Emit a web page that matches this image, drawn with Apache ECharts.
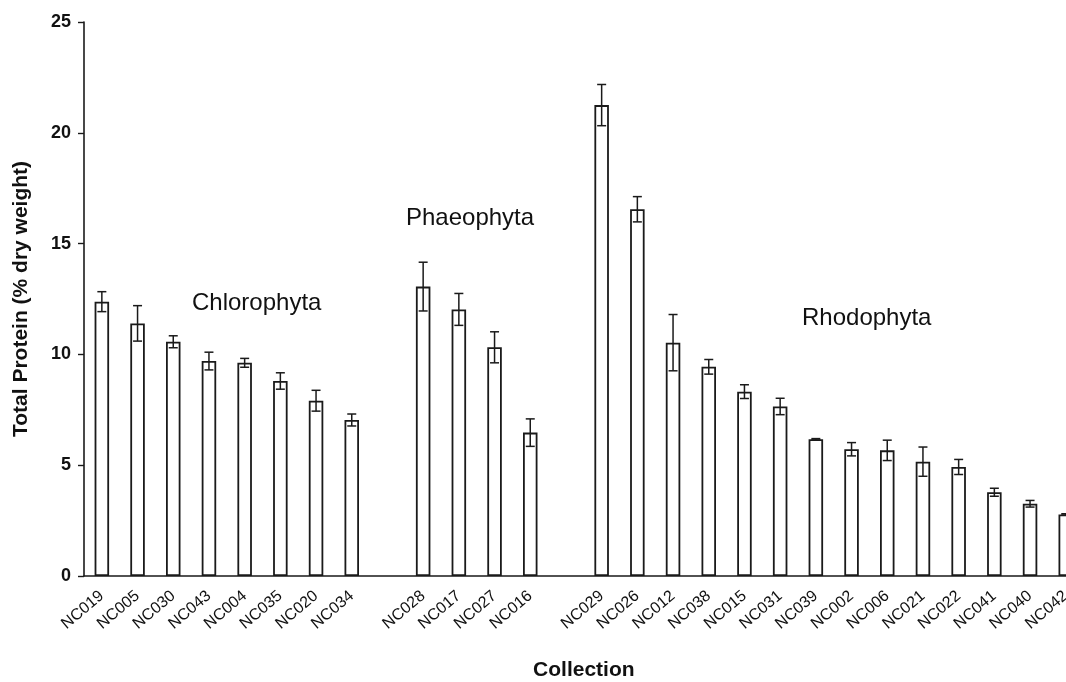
<!DOCTYPE html>
<html>
<head>
<meta charset="utf-8">
<script src="https://cdn.jsdelivr.net/npm/echarts@6/dist/echarts.min.js"></script>
<style>
html,body{margin:0;padding:0;background:#fff;}
#chart{width:1066px;height:682px;}
</style>
</head>
<body>
<div id="chart"></div>
<script>
// Categories ('' = spacer between phyla)
const categories = ['NC019','NC005','NC030','NC043','NC004','NC035','NC020','NC034','',
  'NC028','NC017','NC027','NC016','',
  'NC029','NC026','NC012','NC038','NC015','NC031','NC039','NC002','NC006','NC021','NC022','NC041','NC040','NC042'];
// Mean total protein (% dry weight)
const proteinMean = [12.38, 11.40, 10.57, 9.70, 9.62, 8.80, 7.91, 7.04, null,
  13.06, 12.03, 10.32, 6.47, null,
  21.25, 16.55, 10.53, 9.44, 8.32, 7.65, 6.17, 5.72, 5.67, 5.16, 4.92, 3.78, 3.26, 2.78];
// Error (± value)
const proteinErr = [0.45, 0.80, 0.27, 0.40, 0.20, 0.37, 0.47, 0.27, null,
  1.10, 0.72, 0.70, 0.62, null,
  0.93, 0.57, 1.27, 0.33, 0.31, 0.37, 0.03, 0.30, 0.46, 0.66, 0.34, 0.18, 0.15, 0.03];
const yTicks = [0, 5, 10, 15, 20, 25];
const groupLabels = ['Chlorophyta', 'Phaeophyta', 'Rhodophyta'];

const barData = proteinMean.map(v => v === null ? '-' : v);
const errData = [];
proteinMean.forEach((v, i) => {
  if (v !== null) errData.push([i, v - proteinErr[i], v + proteinErr[i]]);
});

const chart = echarts.init(document.getElementById('chart'));
const FONT = '"Liberation Sans", Arial, Helvetica, sans-serif';
const INK = '#1a1a1a';

chart.setOption({
  animation: false,
  backgroundColor: '#ffffff',
  grid: { left: 84, top: 22, width: 999.6, height: 554, containLabel: false, outerBoundsMode: 'none' },
  xAxis: {
    type: 'category',
    data: categories,
    boundaryGap: true,
    axisLine: { lineStyle: { color: INK, width: 1.6 } },
    axisTick: { show: false },
    axisLabel: { interval: 0, rotate: 40, margin: 18, color: '#111', fontFamily: FONT, fontSize: 16 },
    name: 'Collection',
    nameLocation: 'middle',
    nameGap: 84,
    nameTextStyle: { fontFamily: FONT, fontSize: 21, fontWeight: 'bold', color: '#111' }
  },
  yAxis: {
    type: 'value',
    min: yTicks[0],
    max: yTicks[yTicks.length - 1],
    interval: 5,
    splitLine: { show: false },
    axisLine: { show: true, lineStyle: { color: INK, width: 1.6 } },
    axisTick: { show: true, inside: false, length: 6, lineStyle: { color: INK, width: 1.4 } },
    axisLabel: { margin: 13, color: '#111', fontFamily: FONT, fontSize: 18, fontWeight: 'bold' },
    name: 'Total Protein (% dry weight)',
    nameLocation: 'middle',
    nameGap: 52,
    nameTextStyle: { fontFamily: FONT, fontSize: 21, fontWeight: 'bold', color: '#111' }
  },
  series: [
    {
      type: 'bar',
      data: barData,
      barWidth: 14.5,
      itemStyle: { color: '#ffffff', borderColor: INK, borderWidth: 1.8 },
      z: 2
    },
    {
      type: 'custom',
      data: errData,
      z: 3,
      renderItem: function (params, api) {
        const x = api.value(0);
        const lo = api.coord([x, api.value(1)]);
        const hi = api.coord([x, api.value(2)]);
        const hw = 4.5;
        const style = { stroke: INK, lineWidth: 1.5, fill: null };
        return {
          type: 'group',
          children: [
            { type: 'line', shape: { x1: lo[0], y1: lo[1], x2: hi[0], y2: hi[1] }, style: style },
            { type: 'line', shape: { x1: hi[0] - hw, y1: hi[1], x2: hi[0] + hw, y2: hi[1] }, style: style },
            { type: 'line', shape: { x1: lo[0] - hw, y1: lo[1], x2: lo[0] + hw, y2: lo[1] }, style: style }
          ]
        };
      }
    }
  ],
  graphic: [
    { type: 'text', left: 192, top: 291, style: { text: groupLabels[0], font: '24px ' + FONT, fill: '#111' } },
    { type: 'text', left: 406, top: 206, style: { text: groupLabels[1], font: '24px ' + FONT, fill: '#111' } },
    { type: 'text', left: 802, top: 306, style: { text: groupLabels[2], font: '24px ' + FONT, fill: '#111' } }
  ]
});
</script>
</body>
</html>
